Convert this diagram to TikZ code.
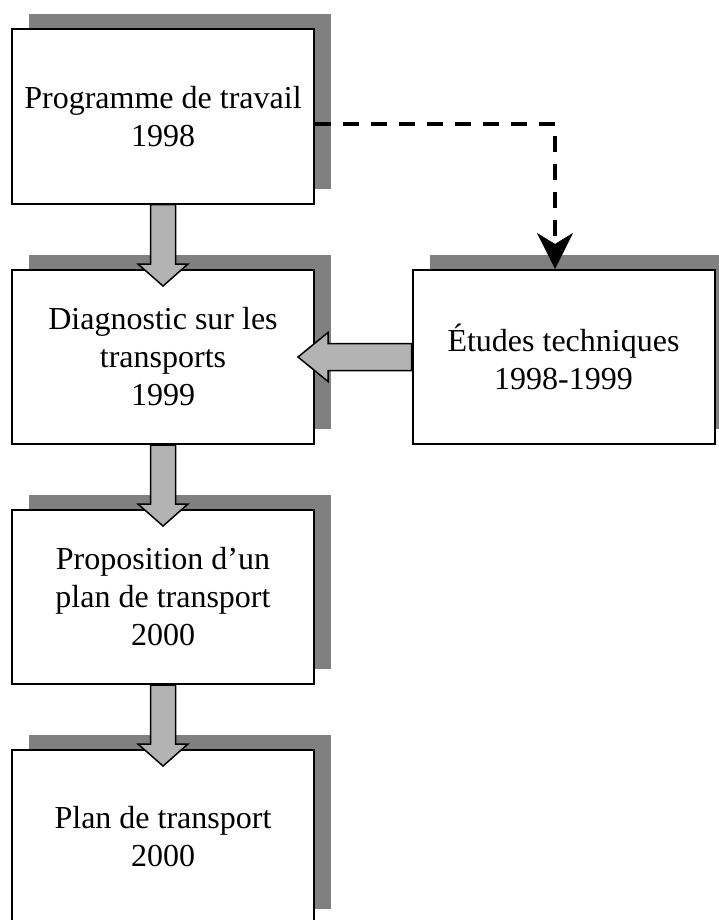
\documentclass[tikz,border=0pt]{standalone}
\usepackage{fontspec}
\setmainfont{Liberation Serif}
\usetikzlibrary{arrows.meta,shadows,calc}
\definecolor{shadowgray}{HTML}{808080}
\definecolor{arrowgray}{HTML}{B3B3B3}
\tikzset{
  stagebox/.style={draw=black, line width=2pt, fill=white, rectangle,
    minimum width=302pt, minimum height=174pt, align=center,
    font=\fontsize{32}{38}\selectfont,
    general shadow={fill=shadowgray, shadow xshift=17pt, shadow yshift=15pt}},
  blockarrow/.style={draw=black, line width=1.5pt, fill=arrowgray, line join=miter},
  dashline/.style={draw=black, line width=4pt, dash pattern=on 16pt off 12pt,
    -{Stealth[length=36pt,width=36pt,inset=11pt,line width=0.5pt]}}
}
\newcommand{\downblock}[2]{%
  \draw[blockarrow] let \p1=(#1.south), \p2=(#2.north) in
    (\x1-12.5pt,\y1) -- (\x1-12.5pt,\y2+5pt) -- (\x1-25pt,\y2+5pt) --
    (\x1,\y2-17pt) -- (\x1+25pt,\y2+5pt) -- (\x1+12.5pt,\y2+5pt) --
    (\x1+12.5pt,\y1) -- cycle;}
\begin{document}
\begin{tikzpicture}[x=1pt,y=-1pt]
\useasboundingbox (0,0) rectangle (719,920);
\clip (0,0) rectangle (719,920);
\node[stagebox] (b1) at (163,116.5) {Programme de travail\\1998};
\node[stagebox] (b2) at (163,357) {Diagnostic sur les\\transports\\1999};
\node[stagebox] (b3) at (163,597) {Proposition d’un\\plan de transport\\2000};
\node[stagebox] (b4) at (163,837) {Plan de transport\\2000};
\node[stagebox] (b5) at (563.5,357) {Études techniques\\1998-1999};
\downblock{b1}{b2}
\downblock{b2}{b3}
\downblock{b3}{b4}
\draw[blockarrow] let \p1=(b5.west), \p2=(b2.east) in
  (\x1,\y1+13.5pt) -- (\x2+13pt,\y1+13.5pt) -- (\x2+13pt,\y1+24.5pt) --
  (\x2-17pt,\y1) -- (\x2+13pt,\y1-24.5pt) -- (\x2+13pt,\y1-13.5pt) --
  (\x1,\y1-13.5pt) -- cycle;
\draw[dashline] ([yshift=-7.5pt]b1.east) -| ([xshift=-8.5pt]b5.north);
\end{tikzpicture}
\end{document}
